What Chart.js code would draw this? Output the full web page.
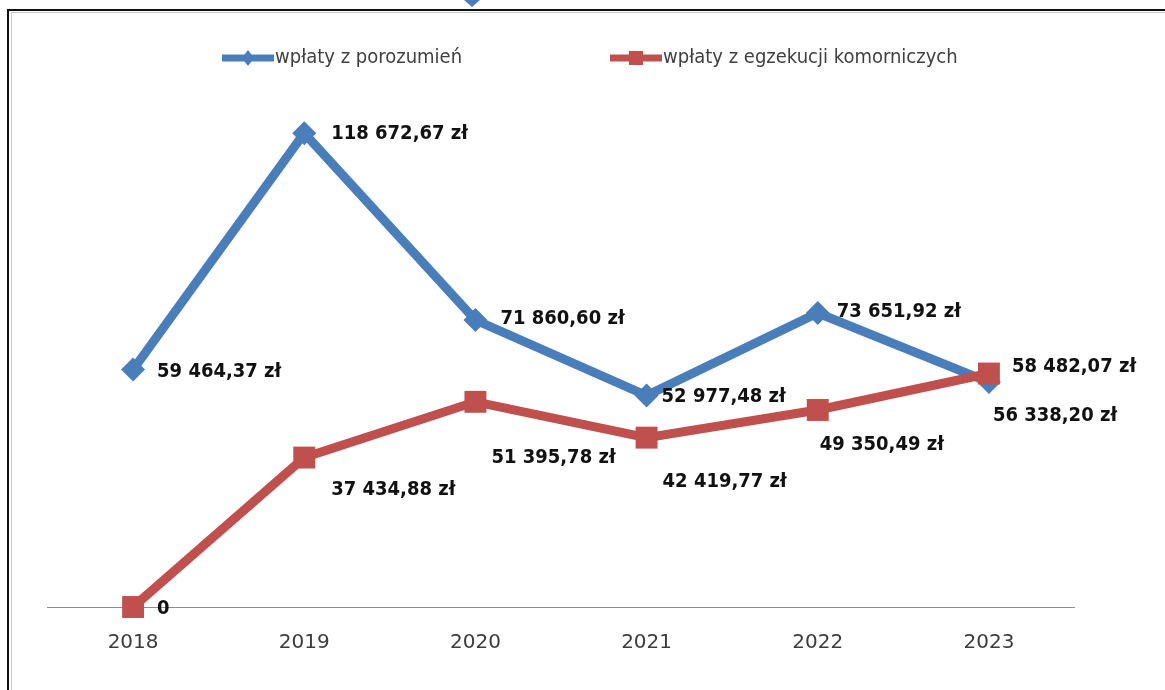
<!DOCTYPE html>
<html>
<head>
<meta charset="utf-8">
<script src="https://cdn.jsdelivr.net/npm/chart.js@4/dist/chart.umd.min.js"></script>
<style>
  html, body { margin: 0; padding: 0; background: #fff; }
  #chart { display: block; }
</style>
</head>
<body>
<canvas id="chart" width="1165" height="690"></canvas>
<script>
// Data
const years = ['2018', '2019', '2020', '2021', '2022', '2023'];
const porozumienia = [59464.37, 118672.67, 71860.60, 52977.48, 73651.92, 56338.20];
const egzekucje = [0, 37434.88, 51395.78, 42419.77, 49350.49, 58482.07];
const seriesNames = ['wpłaty z porozumień', 'wpłaty z egzekucji komorniczych'];

// Label placement next to each point [dx, dy]
const blueLabelOffsets = [[24, 2], [27, 1], [25, -1], [15, 1], [19, -1], [4, 34]];
const redLabelOffsets = [[24, 2], [27, 32], [16, 56], [16, 44], [2, 35], [23, -7]];

const BLUE = '#4a7ebb';
const RED = '#c0504d';
const labelFont = 'bold 20px "DejaVu Sans Condensed", "DejaVu Sans", sans-serif';

function formatZl(v) {
    if (v === 0) return '0';
    const parts = v.toFixed(2).split('.');
    const whole = parts[0].replace(/\B(?=(\d{3})+(?!\d))/g, ' ');
    return whole + ',' + parts[1] + ' zł';
}

// Frame around the chart (partial border, as in the screenshot)
const framePlugin = {
    id: 'frame',
    beforeDraw(chart) {
        const ctx = chart.ctx;
        ctx.save();
        ctx.fillStyle = '#fff';
        ctx.fillRect(0, 0, chart.width, chart.height);
        ctx.fillStyle = '#111';
        ctx.fillRect(7, 9, chart.width - 7, 2);
        ctx.fillRect(7, 9, 2, chart.height - 9);
        ctx.fillStyle = '#c8c8c8';
        ctx.fillRect(11, 12, chart.width - 11, 1);
        ctx.fillRect(11, 12, 1, chart.height - 12);
        // tip of a stray marker above the frame
        ctx.fillStyle = BLUE;
        ctx.beginPath();
        ctx.moveTo(464, 0);
        ctx.lineTo(480, 0);
        ctx.lineTo(472, 7);
        ctx.closePath();
        ctx.fill();
        ctx.restore();
    }
};

// Legend with line + marker like the office chart
const legendPlugin = {
    id: 'officeLegend',
    afterDraw(chart) {
        const ctx = chart.ctx;
        const items = [
            { x: 222, color: BLUE, marker: 'diamond', text: seriesNames[0] },
            { x: 610, color: RED, marker: 'square', text: seriesNames[1] }
        ];
        const y = 58;
        ctx.save();
        items.forEach(it => {
            ctx.fillStyle = it.color;
            ctx.fillRect(it.x, y - 3.5, 52, 7);
            const cx = it.x + 26;
            ctx.beginPath();
            if (it.marker === 'diamond') {
                ctx.moveTo(cx, y - 8);
                ctx.lineTo(cx + 6, y);
                ctx.lineTo(cx, y + 8);
                ctx.lineTo(cx - 6, y);
                ctx.closePath();
            } else {
                ctx.rect(cx - 7, y - 7, 14, 14);
            }
            ctx.fill();
            ctx.fillStyle = '#404040';
            ctx.font = '20px "DejaVu Sans Condensed", "DejaVu Sans", sans-serif';
            ctx.textBaseline = 'middle';
            ctx.textAlign = 'left';
            ctx.fillText(it.text, it.x + 53, y);
        });
        ctx.restore();
    }
};

// Value labels beside the points
const valueLabelPlugin = {
    id: 'valueLabels',
    afterDatasetsDraw(chart) {
        const ctx = chart.ctx;
        ctx.save();
        ctx.font = labelFont;
        ctx.fillStyle = '#111';
        ctx.textAlign = 'left';
        ctx.textBaseline = 'middle';
        chart.data.datasets.forEach((ds, di) => {
            const meta = chart.getDatasetMeta(di);
            const offsets = ds.labelOffsets;
            meta.data.forEach((pt, i) => {
                const off = offsets[i];
                ctx.fillText(formatZl(ds.data[i]), pt.x + off[0], pt.y + off[1]);
            });
        });
        ctx.restore();
    }
};

const ctx = document.getElementById('chart').getContext('2d');
new Chart(ctx, {
    type: 'line',
    data: {
        labels: years,
        datasets: [
            {
                label: seriesNames[1],
                data: egzekucje,
                borderColor: RED,
                backgroundColor: RED,
                borderWidth: 9,
                pointStyle: 'rect',
                pointRadius: 15.5,
                pointBorderWidth: 0,
                pointBackgroundColor: RED,
                tension: 0,
                order: 0,
                clip: false,
                labelOffsets: redLabelOffsets
            },
            {
                label: seriesNames[0],
                data: porozumienia,
                borderColor: BLUE,
                backgroundColor: BLUE,
                borderWidth: 9,
                pointStyle: 'rectRot',
                pointRadius: 12,
                pointBorderWidth: 0,
                pointBackgroundColor: BLUE,
                tension: 0,
                order: 1,
                clip: false,
                labelOffsets: blueLabelOffsets
            }
        ]
    },
    options: {
        responsive: false,
        animation: false,
        devicePixelRatio: 1,
        layout: {
            padding: { left: 47.5, right: 90.5, top: 88, bottom: 19 }
        },
        plugins: {
            legend: { display: false },
            tooltip: { enabled: false }
        },
        scales: {
            x: {
                offset: true,
                grid: { display: false },
                border: { display: true, color: '#8c8c8c', width: 1 },
                ticks: {
                    color: '#3c3c3c',
                    padding: 16,
                    font: { family: '"DejaVu Sans", sans-serif', size: 20 }
                }
            },
            y: {
                display: false,
                min: 0,
                max: 130000
            }
        }
    },
    plugins: [framePlugin, legendPlugin, valueLabelPlugin]
});
</script>
</body>
</html>
